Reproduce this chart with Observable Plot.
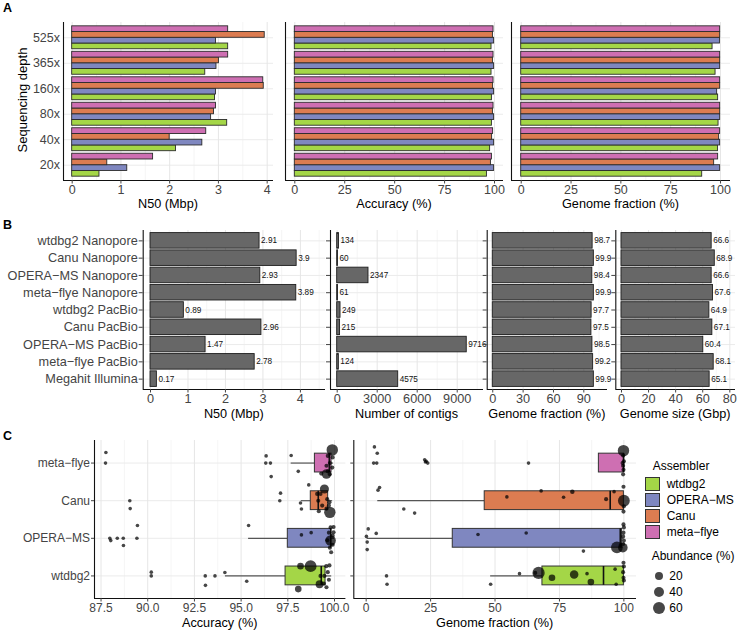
<!DOCTYPE html>
<html><head><meta charset="utf-8">
<script src="https://cdn.jsdelivr.net/npm/d3@7"></script>
<script src="https://cdn.jsdelivr.net/npm/@observablehq/plot@0.6"></script>
<style>
html,body{margin:0;padding:0;background:#fff;}
#fig{position:relative;width:738px;height:630px;overflow:hidden;font-family:"Liberation Sans",Arial,sans-serif;}
.t{position:absolute;white-space:nowrap;line-height:1;color:#000;}
</style></head><body><div id="fig"></div>
<script>
// ---------- shared ----------
const asmNames = ["wtdbg2","OPERA−MS","Canu","meta−flye"];
const asmColors = ["#A4D647","#7F87C0","#DC7C51","#CE6FB2"];

// ---------- Panel A ----------
const depthLabels = ["20x","40x","80x","160x","365x","525x"];
const n50Wtdbg2 = [0.56, 2.13, 3.18, 2.93, 2.73, 3.20];
const n50Opera  = [1.13, 2.67, 2.85, 2.95, 2.96, 2.95];
const n50Canu   = [0.72, 2.00, 2.91, 3.93, 3.01, 3.95];
const n50Flye   = [1.66, 2.75, 2.95, 3.92, 3.20, 3.20];
const accWtdbg2 = [96.2, 97.8, 98.7, 98.7, 98.5, 98.5];
const accOpera  = [99.8, 99.8, 99.8, 99.8, 99.8, 99.8];
const accCanu   = [98.2, 98.8, 99.2, 99.3, 99.2, 99.2];
const accFlye   = [98.7, 99.3, 99.5, 99.5, 99.5, 99.5];
const gfWtdbg2  = [90.8, 98.7, 99.0, 98.8, 97.5, 96.0];
const gfOpera   = [99.8, 99.8, 99.8, 98.3, 99.8, 99.7];
const gfCanu    = [96.8, 99.3, 99.8, 99.8, 99.8, 99.8];
const gfFlye    = [98.8, 99.8, 99.8, 99.8, 99.8, 99.8];

// ---------- Panel B ----------
const bCats = ["wtdbg2 Nanopore","Canu Nanopore","OPERA−MS Nanopore","meta−flye Nanopore","wtdbg2 PacBio","Canu PacBio","OPERA−MS PacBio","meta−flye PacBio","Megahit Illumina"];
const bN50    = [2.91, 3.9, 2.93, 3.89, 0.89, 2.96, 1.47, 2.78, 0.17];
const bContig = [134, 60, 2347, 61, 249, 215, 9716, 124, 4575];
const bGF     = [98.7, 99.9, 98.4, 99.9, 97.7, 97.5, 98.5, 99.2, 99.9];
const bSize   = [66.6, 68.9, 66.6, 67.6, 64.9, 67.1, 60.4, 68.1, 65.1];

// ---------- Panel C : box statistics (wtdbg2, OPERA-MS, Canu, meta-flye) ----------
const accQ1  = [97.38, 97.50, 98.73, 98.95];
const accMed = [99.29, 99.80, 99.13, 99.72];
const accQ3  = [99.52, 99.82, 99.66, 99.84];
const accLo  = [94.16, 95.40, 98.22, 97.68];
const accHi  = [99.85, 100.0, 99.90, 99.95];
const gfQ1  = [68.4, 33.6, 46.0, 90.3];
const gfMed = [92.1, 98.6, 94.7, 99.9];
const gfQ3  = [100, 99.3, 100, 100];
const gfLo  = [48.3, 0.4, 4.5, 90.3];
const gfHi  = [100, 100, 100, 100];

// ---------- Panel C : points (assembler, value, vertical jitter, abundance %) ----------
const accPtAsm = ["meta−flye","meta−flye","meta−flye","meta−flye","meta−flye","meta−flye","meta−flye","meta−flye","meta−flye","meta−flye","meta−flye","meta−flye","meta−flye","meta−flye","meta−flye","meta−flye","meta−flye","meta−flye",
 "Canu","Canu","Canu","Canu","Canu","Canu","Canu","Canu","Canu","Canu","Canu","Canu","Canu","Canu","Canu","Canu","Canu","Canu",
 "OPERA−MS","OPERA−MS","OPERA−MS","OPERA−MS","OPERA−MS","OPERA−MS","OPERA−MS","OPERA−MS","OPERA−MS","OPERA−MS","OPERA−MS","OPERA−MS","OPERA−MS","OPERA−MS","OPERA−MS","OPERA−MS","OPERA−MS","OPERA−MS","OPERA−MS","OPERA−MS",
 "wtdbg2","wtdbg2","wtdbg2","wtdbg2","wtdbg2","wtdbg2","wtdbg2","wtdbg2","wtdbg2","wtdbg2","wtdbg2","wtdbg2","wtdbg2","wtdbg2","wtdbg2","wtdbg2","wtdbg2","wtdbg2","wtdbg2"];
const accPtVal = [87.76,87.74,96.34,96.32,96.57,96.61,97.68,98.06,99.88,99.64,99.90,99.75,99.57,99.88,99.64,99.57,99.29,99.75,
 89.04,89.06,97.11,97.07,98.62,98.18,98.23,99.07,99.13,99.25,99.34,99.46,99.61,99.73,99.70,99.57,99.75,99.16,
 87.97,88.02,88.37,88.69,88.70,89.42,89.45,95.40,98.23,98.75,99.79,99.95,99.70,99.90,99.79,99.61,99.90,99.75,99.82,99.95,
 90.19,90.19,93.08,93.09,93.60,94.13,95.30,98.72,98.18,98.06,99.25,99.20,99.56,99.73,99.64,99.46,99.70,99.43,99.57];
const accPtJit = [0.28,0,0.19,0,0,-0.36,0.2,-0.22,0.35,0.19,0.15,0,-0.07,-0.12,-0.22,-0.29,-0.28,-0.3,
 0,-0.21,0.2,0,0.42,-0.06,-0.22,0.18,0,0.18,-0.13,0.31,0.04,-0.04,-0.13,-0.21,-0.31,-0.28,
 0,-0.06,0,0,-0.19,0,0.34,0.34,0.09,0.15,0.29,0.3,0.15,0.07,-0.06,-0.05,-0.17,-0.25,-0.37,0.16,
 0.1,0,0,-0.25,0,0.09,-0.14,0.26,0.26,-0.35,0,-0.22,0.26,0.28,0.1,0,-0.1,-0.2,-0.3];
const accPtAb = [1,1,1,1,1,1,1,1,55,2,2,2,2,2,2,35,2,2,
 1,1,1,1,1,1,1,2,2,2,2,30,2,2,2,2,55,2,
 1,1,1,1,1,1,1,1,1,1,2,2,2,2,45,2,2,2,2,2,
 1,1,1,1,1,1,1,60,12,12,2,20,2,2,2,2,2,2,2];

const gfPtAsm = ["meta−flye","meta−flye","meta−flye","meta−flye","meta−flye","meta−flye","meta−flye","meta−flye","meta−flye","meta−flye","meta−flye","meta−flye","meta−flye","meta−flye","meta−flye","meta−flye",
 "Canu","Canu","Canu","Canu","Canu","Canu","Canu","Canu","Canu","Canu","Canu","Canu","Canu","Canu",
 "OPERA−MS","OPERA−MS","OPERA−MS","OPERA−MS","OPERA−MS","OPERA−MS","OPERA−MS","OPERA−MS","OPERA−MS","OPERA−MS","OPERA−MS","OPERA−MS","OPERA−MS","OPERA−MS","OPERA−MS","OPERA−MS",
 "wtdbg2","wtdbg2","wtdbg2","wtdbg2","wtdbg2","wtdbg2","wtdbg2","wtdbg2","wtdbg2","wtdbg2","wtdbg2","wtdbg2","wtdbg2","wtdbg2","wtdbg2","wtdbg2","wtdbg2"];
const gfPtVal = [3.2,4.3,2.9,4.1,22.7,23.3,23.9,23.0,63.0,99.85,99.7,100,99.7,99.85,99.7,99.5,
 5.2,4.6,14.6,18.8,54.6,67.9,80.0,76.6,93.1,96.2,99.85,100,99.85,100,
 0.8,3.9,0.1,0.4,0.4,43.4,62.1,84.3,97.3,99.6,99.85,100,99.85,99.7,100,99.7,
 7.9,8.1,48.3,59.5,66.9,65.6,72.1,80.7,85.7,87.2,96.6,97.0,99.85,100,99.7,99.85,100];
const gfPtJit = [0.43,0.26,0,0,0.09,0.05,0,0.03,0,0.33,0.2,0.05,-0.07,-0.18,-0.3,0,
 0.35,0.28,-0.22,-0.33,0.1,0.26,0.24,0.09,0.04,0.24,0.37,0,-0.29,-0.15,
 0.25,0.13,0.05,-0.1,-0.3,0.1,0.14,-0.34,-0.24,-0.25,0.37,0.29,0.15,0.05,-0.06,-0.15,
 0,-0.22,-0.22,0.06,0.08,0.08,-0.05,0.04,0.06,-0.16,0.18,-0.22,0.35,0.25,0.1,-0.05,-0.12];
const gfPtAb = [1,1,1,1,1,1,1,1,1,55,2,2,2,2,2,2,
 1,1,1,1,1,1,3,1,2,1,2,60,2,2,
 1,1,1,1,1,1,1,1,60,35,2,2,2,2,2,2,
 1,1,1,1,65,2,12,25,1,12,1,1,2,2,2,2,2];

const abundLegend = [20, 40, 60];

// ---------- helpers ----------
const W = 738, H = 630;
const fig = document.getElementById("fig");
const colorScale = {domain: asmNames, range: asmColors};
const rScale = {type: "sqrt", domain: [0, 70], range: [1.2, 6.3]};

function addText(txt, left, baseline, size, extra = {}) {
  const d = document.createElement("div");
  d.className = "t";
  d.textContent = txt;
  d.style.left = left + "px";
  d.style.top = (baseline - 0.8465 * size) + "px";
  d.style.fontSize = size + "px";
  Object.assign(d.style, extra);
  fig.appendChild(d);
  return d;
}
function addCentered(txt, cx, cy, size, angle) {
  const d = addText(txt, cx, cy, size);
  d.style.top = cy + "px";
  d.style.transform = "translate(-50%,-50%)" + (angle ? " rotate(" + angle + "deg)" : "");
  return d;
}

function panel(o) {
  const marks = [
    Plot.gridX({ticks: o.minors, stroke: "#f1f1f1", strokeOpacity: 1, strokeWidth: 0.7}),
    Plot.gridY({ticks: o.yTicks, stroke: "#ebebeb", strokeOpacity: 1, strokeWidth: 1}),
    Plot.gridX({ticks: o.majors, stroke: "#e6e6e6", strokeOpacity: 1, strokeWidth: 1}),
    ...o.marks,
    Plot.ruleX([o.xDomain[0]], {stroke: "#111", strokeWidth: 1.1}),
    Plot.ruleY([o.yDomain[0]], {stroke: "#111", strokeWidth: 1.1}),
    Plot.axisX({ticks: o.majors, tickFormat: o.xFormat || (d => String(d)), tickSize: 3.5, tickPadding: 1,
      fontSize: o.fs, color: "#444", label: null}),
    Plot.axisY({ticks: o.yTicks, tickFormat: o.yNames ? (i => o.yNames[i - 1]) : (() => ""),
      tickSize: o.yTickSize, tickPadding: o.yPad ?? 1.5, fontSize: o.yfs || o.fs, color: "#444", label: null})
  ];
  const p = Plot.plot({
    width: W, height: H,
    marginLeft: o.L, marginRight: W - o.R, marginTop: o.T, marginBottom: H - o.B,
    x: {domain: o.xDomain, axis: null},
    y: {domain: o.yDomain, axis: null},
    color: colorScale,
    r: rScale,
    style: {fontFamily: "Liberation Sans, Arial, sans-serif", background: "transparent", overflow: "visible"},
    marks
  });
  p.style.position = "absolute";
  p.style.left = "0px";
  p.style.top = "0px";
  fig.appendChild(p);
  addCentered(o.xTitle, (o.L + o.R) / 2, o.B + o.titleDy, o.titleFs);
}

// ---------- Panel A ----------
const aRows = [];
const aN50 = [n50Wtdbg2, n50Opera, n50Canu, n50Flye];
const aAcc = [accWtdbg2, accOpera, accCanu, accFlye];
const aGF  = [gfWtdbg2, gfOpera, gfCanu, gfFlye];
depthLabels.forEach((lab, i) => asmNames.forEach((a, j) => {
  aRows.push({depth: i + 1, asm: a, j, n50: aN50[j][i], acc: aAcc[j][i], gf: aGF[j][i]});
}));
const dodge = (d, s) => d.depth - 0.45 + 0.225 * (d.j + s);
function aBars(field) {
  return Plot.rect(aRows, {x1: () => 0, x2: field, y1: d => dodge(d, 0), y2: d => dodge(d, 1),
    fill: "asm", stroke: "#2b2b2b", strokeWidth: 0.9});
}
const aY = [0.4, 6.6], aTicks = [1, 2, 3, 4, 5, 6];
panel({L: 63, R: 273, T: 22, B: 180, xDomain: [-0.178, 4.13], yDomain: aY, yTicks: aTicks,
  majors: [0, 1, 2, 3, 4], minors: [0.5, 1.5, 2.5, 3.5], yNames: depthLabels, yTickSize: 0, yPad: 3.5,
  fs: 12.5, xTitle: "N50 (Mbp)", titleDy: 23.8, titleFs: 12.7, marks: [aBars("n50")]});
panel({L: 285, R: 503, T: 22, B: 180, xDomain: [-4.66, 104.5], yDomain: aY, yTicks: aTicks,
  majors: [0, 25, 50, 75, 100], minors: [12.5, 37.5, 62.5, 87.5], yTickSize: 0,
  fs: 12.5, xTitle: "Accuracy (%)", titleDy: 23.8, titleFs: 12.7, marks: [aBars("acc")]});
panel({L: 511, R: 730, T: 22, B: 180, xDomain: [-4.87, 105.0], yDomain: aY, yTicks: aTicks,
  majors: [0, 25, 50, 75, 100], minors: [12.5, 37.5, 62.5, 87.5], yTickSize: 0,
  fs: 12.5, xTitle: "Genome fraction (%)", titleDy: 23.8, titleFs: 12.7, marks: [aBars("gf")]});

// ---------- Panel B ----------
const nB = bCats.length;
const bRows = bCats.map((c, k) => ({idx: nB - k, cat: c, n50: bN50[k], contig: bContig[k], gf: bGF[k], size: bSize[k]}));
const bNames = bCats.slice().reverse();
const bY = [0.4, nB + 0.6], bTicks = d3.range(1, nB + 1);
function bMarks(field) {
  return [
    Plot.rect(bRows, {x1: () => 0, x2: field, y1: d => d.idx - 0.45, y2: d => d.idx + 0.45,
      fill: "#676767", stroke: "#1e1e1e", strokeWidth: 0.9}),
    Plot.text(bRows, {x: field, y: "idx", text: d => String(d[field]), textAnchor: "start", dx: 1.5,
      fontSize: 8.2, fill: "#111"})
  ];
}
panel({L: 142.7, R: 325, T: 230, B: 389, xDomain: [-0.195, 4.67], yDomain: bY, yTicks: bTicks,
  majors: [0, 1, 2, 3, 4], minors: [0.5, 1.5, 2.5, 3.5, 4.5], yNames: bNames, yTickSize: 4,
  fs: 12.7, xTitle: "N50 (Mbp)", titleDy: 24.5, titleFs: 12.7, marks: bMarks("n50")});
panel({L: 330, R: 483, T: 230, B: 389, xDomain: [-502, 10972], yDomain: bY, yTicks: bTicks,
  majors: [0, 3000, 6000, 9000], minors: [1500, 4500, 7500, 10500], yTickSize: 4,
  fs: 12.7, xTitle: "Number of contigs", titleDy: 24.5, titleFs: 12.7, marks: bMarks("contig")});
panel({L: 486.7, R: 607, T: 230, B: 389, xDomain: [-5.5, 113.4], yDomain: bY, yTicks: bTicks,
  majors: [0, 30, 60, 90], minors: [15, 45, 75, 105], yTickSize: 4,
  fs: 12.7, xTitle: "Genome fraction (%)", titleDy: 24.5, titleFs: 12.7, marks: bMarks("gf")});
panel({L: 615.3, R: 735, T: 230, B: 389, xDomain: [-4.2, 84.2], yDomain: bY, yTicks: bTicks,
  majors: [0, 20, 40, 60, 80], minors: [10, 30, 50, 70], yTickSize: 4,
  fs: 12.7, xTitle: "Genome size (Gbp)", titleDy: 24.5, titleFs: 12.7, marks: bMarks("size")});

// ---------- Panel C ----------
const asmIdx = a => asmNames.indexOf(a) + 1;
const accBox = asmNames.map((a, k) => ({asm: a, i: k + 1, q1: accQ1[k], med: accMed[k], q3: accQ3[k], lo: accLo[k], hi: accHi[k]}));
const gfBox  = asmNames.map((a, k) => ({asm: a, i: k + 1, q1: gfQ1[k], med: gfMed[k], q3: gfQ3[k], lo: gfLo[k], hi: gfHi[k]}));
const accPts = accPtAsm.map((a, k) => ({asm: a, v: accPtVal[k], jit: accPtJit[k], ab: accPtAb[k]}));
const gfPts  = gfPtAsm.map((a, k) => ({asm: a, v: gfPtVal[k], jit: gfPtJit[k], ab: gfPtAb[k]}));
function cMarks(box, pts) {
  return [
    Plot.ruleY(box, {y: "i", x1: "lo", x2: "q1", stroke: "#555", strokeWidth: 1.2}),
    Plot.ruleY(box, {y: "i", x1: "q3", x2: "hi", stroke: "#555", strokeWidth: 1.2}),
    Plot.rect(box, {x1: "q1", x2: "q3", y1: d => d.i - 0.25, y2: d => d.i + 0.25, fill: "asm", stroke: "#333", strokeWidth: 1}),
    Plot.ruleX(box, {x: "med", y1: d => d.i - 0.25, y2: d => d.i + 0.25, stroke: "#111", strokeWidth: 1.6}),
    Plot.dot(pts, {x: "v", y: d => asmIdx(d.asm) + d.jit, r: "ab", fill: "black", fillOpacity: 0.72, stroke: "none"})
  ];
}
const cY = [0.4, 4.6], cTicks = [1, 2, 3, 4];
panel({L: 94, R: 345.4, T: 440, B: 598, xDomain: [87.15, 100.61], yDomain: cY, yTicks: cTicks,
  majors: [87.5, 90, 92.5, 95, 97.5, 100], minors: [88.75, 91.25, 93.75, 96.25, 98.75],
  xFormat: d3.format(".1f"), yNames: asmNames, yTickSize: 3, yfs: 12,
  fs: 12, xTitle: "Accuracy (%)", titleDy: 24.5, titleFs: 12.7, marks: cMarks(accBox, accPts)});
panel({L: 353.3, R: 636, T: 440, B: 598, xDomain: [-4.8, 104.9], yDomain: cY, yTicks: cTicks,
  majors: [0, 25, 50, 75, 100], minors: [12.5, 37.5, 62.5, 87.5], yTickSize: 3,
  fs: 12, xTitle: "Genome fraction (%)", titleDy: 24.5, titleFs: 12.7, marks: cMarks(gfBox, gfPts)});

// ---------- labels & legend ----------
addText("A", 3, 13, 12.5, {fontWeight: "bold"});
addText("B", 3, 230, 12.5, {fontWeight: "bold"});
addText("C", 3, 441, 12.5, {fontWeight: "bold"});
addCentered("Sequencing depth", 21.7, 100, 13, -90);

addText("Assembler", 652.7, 470, 12);
asmNames.forEach((a, k) => {
  const top = 476.5 + k * 16.2;
  const s = document.createElement("div");
  Object.assign(s.style, {position: "absolute", left: "645px", top: top + "px", width: "15px", height: "14px",
    background: asmColors[k], border: "1px solid #333", boxSizing: "border-box"});
  fig.appendChild(s);
  addText(a, 666.7, top + 7 + 4.2, 12);
});
addText("Abundance (%)", 651.7, 560, 12);
const rFn = d3.scaleSqrt().domain(rScale.domain).range(rScale.range);
abundLegend.forEach((v, k) => {
  const cy = 575.7 + k * 16, r = rFn(v);
  const c = document.createElement("div");
  Object.assign(c.style, {position: "absolute", left: (659.3 - r) + "px", top: (cy - r) + "px",
    width: 2 * r + "px", height: 2 * r + "px", borderRadius: "50%", background: "rgba(0,0,0,0.72)"});
  fig.appendChild(c);
  addText(String(v), 669.3, cy + 4.2, 12);
});
</script></body></html>
